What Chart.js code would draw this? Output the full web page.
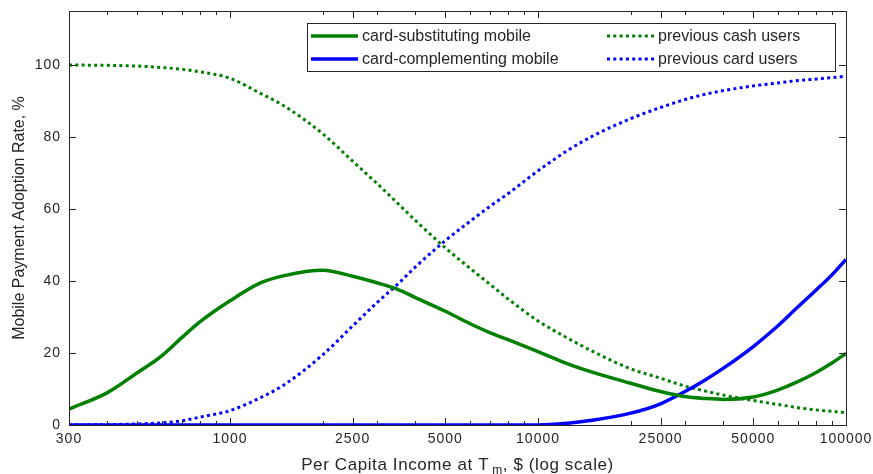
<!DOCTYPE html>
<html>
<head>
<meta charset="utf-8">
<script src="https://cdn.jsdelivr.net/npm/chart.js@4/dist/chart.umd.min.js"></script>
<style>
  html, body { margin: 0; padding: 0; background: #fff; }
  #wrap { width: 873px; height: 474px; }
</style>
</head>
<body>
<div id="wrap"><canvas id="myChart" width="873" height="474"></canvas></div>
<script>
// per capita income grid, $ (log axis)
const incomes = [300, 400, 500, 600, 700, 800, 1000, 1250, 1500, 2000, 2500, 3000, 3500, 4000,
  5000, 6000, 7000, 8000, 10000, 12500, 15000, 20000, 25000, 30000, 35000, 40000,
  50000, 60000, 70000, 80000, 90000, 100000];

const cardSubstituting = [4.4, 9.0, 14.5, 19.2, 24.4, 28.7, 34.5, 39.4, 41.5, 43.0, 41.3, 39.5, 37.7, 35.4,
  31.6, 28.2, 25.6, 23.7, 20.4, 17.0, 14.7, 11.6, 9.3, 7.9, 7.35, 7.1,
  7.8, 9.7, 12.1, 14.6, 17.2, 19.9];

const cardComplementing = [0, 0, 0, 0, 0, 0, 0, 0, 0, 0, 0, 0, 0, 0,
  0, 0, 0, 0, 0, 0.5, 1.3, 3.3, 5.9, 9.3, 12.6, 15.8,
  21.8, 27.5, 32.9, 37.5, 41.7, 46.0];

const prevCashUsers = [100, 99.9, 99.7, 99.3, 98.8, 98.1, 96.3, 92.2, 88.6, 80.9, 73.3, 67.1, 61.6, 56.8,
  49.2, 43.6, 39.0, 35.0, 28.9, 24.1, 20.5, 15.6, 13.0, 10.8, 9.4, 8.3,
  6.8, 5.7, 4.8, 4.2, 3.8, 3.4];

const prevCardUsers = [0, 0.1, 0.3, 0.6, 1.2, 2.2, 4.0, 7.5, 11.2, 19.5, 27.5, 34.0, 39.1, 43.9,
  51.2, 56.5, 60.8, 64.3, 70.6, 76.3, 80.2, 85.1, 88.2, 90.4, 91.9, 92.9,
  94.2, 95.0, 95.7, 96.1, 96.5, 96.9];

const xMajorTicks = [300, 1000, 2500, 5000, 10000, 25000, 50000, 100000];
const xMinorTicks = [400, 500, 600, 700, 800, 900, 2000, 3000, 4000, 6000, 7000, 8000, 9000,
  20000, 30000, 40000, 60000, 70000, 80000, 90000];
const yTicks = [0, 20, 40, 60, 80, 100];

const GREEN = '#008000';
const BLUE = '#0000ff';
const INK = '#262626';
const FONT = '"Liberation Sans", Arial, sans-serif';

const pts = (vals) => incomes.map((v, i) => ({ x: v, y: vals[i] }));

const series = (label, vals, color, dotted) => ({
  label: label,
  data: pts(vals),
  borderColor: color,
  backgroundColor: color,
  borderWidth: dotted ? 3 : 3.5,
  borderDash: dotted ? [3, 3.3] : [],
  borderCapStyle: 'butt',
  pointRadius: 0,
  cubicInterpolationMode: 'monotone',
  fill: false
});

// no extra label padding, so the plot box sits where the layout padding says
const noPad = (s) => { s.paddingTop = 0; s.paddingBottom = 0; s.paddingLeft = 0; s.paddingRight = 0; };

// box, inward ticks, titles and a two column legend
const frame = {
  id: 'frame',
  beforeDraw(chart) {
    chart.ctx.letterSpacing = '1px';
  },
  afterDraw(chart) {
    const { ctx, chartArea: a, scales: { x, y } } = chart;
    ctx.save();
    ctx.letterSpacing = '0px';
    ctx.strokeStyle = INK;
    ctx.lineWidth = 1;
    ctx.strokeRect(a.left + 0.5, a.top + 0.5, a.right - a.left, a.bottom - a.top);
    ctx.beginPath();
    const xt = (v, len) => {
      const px = Math.round(x.getPixelForValue(v)) + 0.5;
      ctx.moveTo(px, a.bottom); ctx.lineTo(px, a.bottom - len);
      ctx.moveTo(px, a.top); ctx.lineTo(px, a.top + len);
    };
    xMajorTicks.forEach(v => xt(v, 7));
    xMinorTicks.forEach(v => xt(v, 4));
    yTicks.forEach(v => {
      const py = Math.round(y.getPixelForValue(v)) + 0.5;
      ctx.moveTo(a.left, py); ctx.lineTo(a.left + 7, py);
      ctx.moveTo(a.right, py); ctx.lineTo(a.right - 7, py);
    });
    ctx.stroke();

    // axis titles
    ctx.fillStyle = INK;
    ctx.textBaseline = 'alphabetic';
    ctx.letterSpacing = '0.6px';
    const t1 = 'Per Capita Income at T', t2 = ', $ (log scale)';
    ctx.font = '17px ' + FONT;
    const w1 = ctx.measureText(t1).width, w2 = ctx.measureText(t2).width;
    ctx.font = '12px ' + FONT;
    const wm = ctx.measureText('m').width + 3;
    const tx = (a.left + a.right) / 2 - (w1 + wm + w2) / 2;
    const ty = 470;
    ctx.font = '17px ' + FONT;
    ctx.fillText(t1, tx, ty);
    ctx.font = '12px ' + FONT;
    ctx.fillText('m', tx + w1 + 3, ty + 4);
    ctx.font = '17px ' + FONT;
    ctx.fillText(t2, tx + w1 + wm, ty);

    ctx.save();
    ctx.translate(24, (a.top + a.bottom) / 2);
    ctx.rotate(-Math.PI / 2);
    ctx.letterSpacing = '0px';
    ctx.textAlign = 'center';
    ctx.font = '16px ' + FONT;
    ctx.fillText('Mobile Payment Adoption Rate, %', 0, 0);
    ctx.restore();

    // legend
    const lx = 307, ly = 23, lw = 528, lh = 48;
    ctx.fillStyle = '#fff';
    ctx.fillRect(lx, ly, lw, lh);
    ctx.strokeStyle = INK;
    ctx.strokeRect(lx + 0.5, ly + 0.5, lw, lh);
    const slots = [[311, 36], [311, 59], [607, 36], [607, 59]];
    ctx.font = '16px ' + FONT;
    ctx.textBaseline = 'middle';
    ctx.letterSpacing = '0px';
    chart.data.datasets.forEach((ds, i) => {
      const [sx, sy] = slots[i];
      ctx.beginPath();
      ctx.strokeStyle = ds.borderColor;
      ctx.lineWidth = ds.borderWidth;
      ctx.setLineDash(ds.borderDash);
      ctx.moveTo(sx, sy); ctx.lineTo(sx + 47, sy);
      ctx.stroke();
      ctx.setLineDash([]);
      ctx.fillStyle = INK;
      ctx.fillText(ds.label, sx + 51, sy + 1);
    });
    ctx.restore();
  }
};

const ctx = document.getElementById('myChart');
new Chart(ctx, {
  type: 'line',
  data: {
    datasets: [
      series('card-substituting mobile', cardSubstituting, GREEN, false),
      series('card-complementing mobile', cardComplementing, BLUE, false),
      series('previous cash users', prevCashUsers, GREEN, true),
      series('previous card users', prevCardUsers, BLUE, true)
    ]
  },
  options: {
    responsive: false,
    animation: false,
    layout: { padding: { left: 0, right: 27, top: 11, bottom: 0 } },
    plugins: { legend: { display: false }, tooltip: { enabled: false } },
    scales: {
      x: {
        type: 'logarithmic',
        min: 300,
        max: 100000,
        grid: { display: false, drawTicks: false },
        border: { display: false },
        afterBuildTicks: (s) => { s.ticks = xMajorTicks.map(v => ({ value: v })); },
        afterFit: (s) => { s.height = 49; noPad(s); },
        ticks: {
          autoSkip: false,
          maxRotation: 0,
          padding: 6,
          color: INK,
          font: { family: FONT, size: 14 },
          callback: (v) => String(v)
        }
      },
      y: {
        min: 0,
        max: 115,
        grid: { display: false, drawTicks: false },
        border: { display: false },
        afterBuildTicks: (s) => { s.ticks = yTicks.map(v => ({ value: v })); },
        afterFit: (s) => { s.width = 69; noPad(s); },
        ticks: {
          padding: 8,
          color: INK,
          font: { family: FONT, size: 14 }
        }
      }
    }
  },
  plugins: [frame]
});
</script>
</body>
</html>
